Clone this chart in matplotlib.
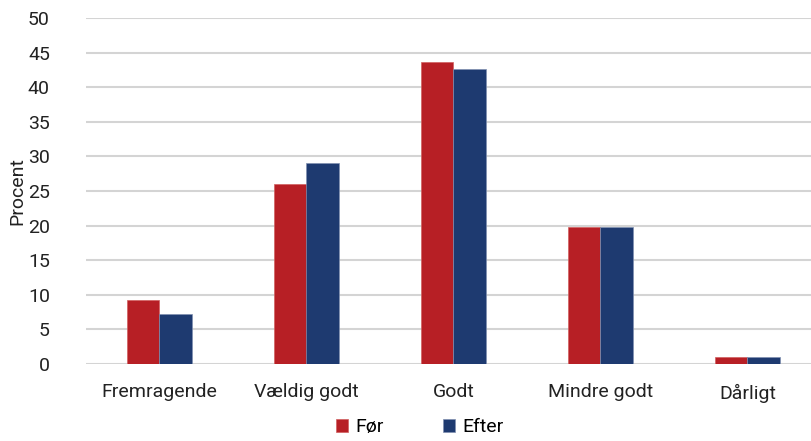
import matplotlib
matplotlib.use("Agg")
import matplotlib.pyplot as plt
import numpy as np

categories = ["Fremragende", "Vældig godt", "Godt", "Mindre godt", "Dårligt"]
for_values = [9.3, 26.0, 43.7, 19.8, 1.0]
efter_values = [7.2, 29.1, 42.7, 19.8, 1.0]
series_names = ["Før", "Efter"]
yticks = [0, 5, 10, 15, 20, 25, 30, 35, 40, 45, 50]

plt.rcParams['font.family'] = ['Roboto', 'DejaVu Sans']
fs = 14

fig = plt.figure(figsize=(8.12, 4.41), dpi=100)
ax = fig.add_axes([86/812, 1-364/441, 735/812, (364-18)/441])

x = np.arange(len(categories))
w = 0.222
red = "#B71F25"
blue = "#1E3A70"
ax.bar(x - w/2, for_values, w, color=red, edgecolor="#d06060", linewidth=0.5, label=series_names[0], zorder=3)
ax.bar(x + w/2, efter_values, w, color=blue, edgecolor="#8090b0", linewidth=0.5, label=series_names[1], zorder=3)

ax.set_xlim(-0.5, len(categories) - 0.5)
ax.set_ylim(0, 50)
ax.set_yticks(yticks)
ax.set_yticklabels([str(t) for t in yticks], fontsize=fs, color="#222222")
ax.set_xticks(x)
ax.set_xticklabels(categories, fontsize=fs, color="#222222")
ax.tick_params(axis='y', length=0, pad=26)
ax.tick_params(axis='x', length=0, pad=14)
ax.grid(axis='y', color="#d4d4d4", linewidth=1.5, zorder=0)
for s in ax.spines.values():
    s.set_visible(False)
ax.set_ylabel("Procent", fontsize=fs, color="#222222")
ax.yaxis.set_label_coords(-60/735, 0.5)

fig.legend(loc="lower center", bbox_to_anchor=(0.5 + 13.5/812, -0.02), ncol=2, frameon=False,
           fontsize=fs, handlelength=0.65, handleheight=0.65, handletextpad=0.35,
           columnspacing=3.03, borderpad=0.2)

fig.savefig("out.png", dpi=100)
